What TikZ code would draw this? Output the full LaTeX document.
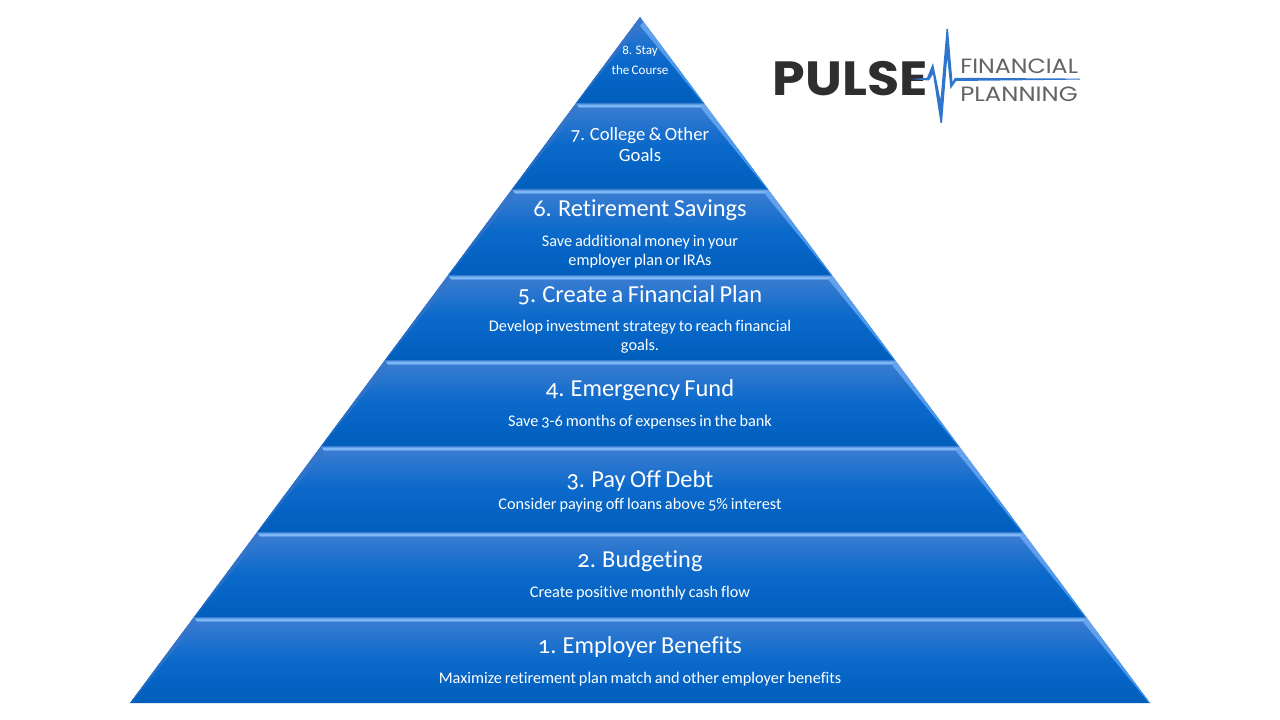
\documentclass[tikz,border=0pt]{standalone}
\usepackage{fontspec}
\setmainfont[Numbers=OldStyle,Ligatures={NoCommon},WordSpace=0.8]{Carlito}
\newfontfamily\logofont{Poppins}
\definecolor{laytop}{HTML}{3E7ED2}
\definecolor{laymid}{HTML}{0A69CA}
\definecolor{laybot}{HTML}{005FBC}
\definecolor{edgeR}{HTML}{3590F0}
\definecolor{edgeRt}{HTML}{6AA4EC}
\definecolor{edgeL}{HTML}{1A68C4}
\definecolor{edgeLt}{HTML}{3A78CC}
\definecolor{stripHi}{HTML}{8EC6FF}
\definecolor{stripLo}{HTML}{3D7DD2}
\definecolor{logoDark}{HTML}{2E2E30}
\definecolor{logoGrey}{HTML}{636466}
\definecolor{logoBlue}{HTML}{2F75CC}
\tikzset{
  x=0.75pt,y=-0.75pt,
  layer/.style={shade,top color=laytop,bottom color=laybot,middle color=laymid,draw=none},
  title/.style={text=white,font=\fontsize{18.3}{20}\selectfont,inner sep=0pt,align=center},
  sub/.style={text=white,font=\fontsize{12.2}{14.3}\selectfont,inner sep=0pt,align=center},
}
\begin{document}
\begin{tikzpicture}
\useasboundingbox (0,0) rectangle (1280,720);
\fill[white] (0,0) rectangle (1280,720);
\foreach \ya/\yb [count=\i] in {17/103,103/189,189/275,275/360,360/446,446/532,532/617,617/703}{
  \pgfmathsetmacro{\xla}{640-0.7434*(\ya-17)}
  \pgfmathsetmacro{\xra}{640+0.7434*(\ya-17)}
  \pgfmathsetmacro{\xlb}{640-0.7434*(\yb-17)}
  \pgfmathsetmacro{\xrb}{640+0.7434*(\yb-17)}
  \path[layer] (\xla,\ya) -- (\xra,\ya) -- (\xrb,\yb) -- (\xlb,\yb) -- cycle;
  % right bevel
  \path[shade,top color=edgeRt,bottom color=edgeR,draw=none]
    (\xra,\ya) -- (\xrb,\yb) -- (\xrb-1,\yb) -- (\xra-3,\ya+5) -- cycle;
  % left bevel
  \path[shade,top color=edgeLt,bottom color=edgeL,draw=none]
    (\xla,\ya) -- (\xlb,\yb) -- (\xlb+1,\yb) -- (\xla+3,\ya+5) -- cycle;
  % top bevel
  \ifnum\i>1
    \path[shade,top color=stripLo,bottom color=stripLo,middle color=stripHi,draw=none]
      (\xla,\ya) -- (\xra,\ya) -- (\xra-3,\ya+5) -- (\xla+3,\ya+5) -- cycle;
  \fi
}
\node[text=white,font=\fontsize{9.8}{15}\selectfont,inner sep=0pt,align=center] (t8) at (640,60) {8. Stay\\[0pt]the Course};
\node[text=white,font=\fontsize{14}{16}\selectfont,inner sep=0pt,align=center] (t7) at (640,144.5) {7. College \& Other\\Goals};
\node[title] (t6) at (640,210) {6. Retirement Savings};
\node[sub] (s6) at (640,251.5) {Save additional money in your\\employer plan or IRAs};
\node[title] (t5) at (640,295) {5. Create a Financial Plan};
\node[sub] (s5) at (640,336.5) {Develop investment strategy to reach financial\\goals.};
\node[title] (t4) at (640,390) {4. Emergency Fund};
\node[sub] (s4) at (640,422) {Save 3-6 months of expenses in the bank};
\node[title] (t3) at (640,481) {3. Pay Off Debt};
\node[sub] (s3) at (640,505) {Consider paying off loans above 5\% interest};
\node[title] (t2) at (640,561) {2. Budgeting};
\node[sub] (s2) at (640,593) {Create positive monthly cash flow};
\node[title] (t1) at (640,647) {1. Employer Benefits};
\node[sub] (s1) at (640,679) {Maximize retirement plan match and other employer benefits};
% logo
\node[text=logoDark,font=\logofont\bfseries\fontsize{36}{36}\selectfont,inner sep=0pt,anchor=base west] (pulse) at (772.5,96) {\scalebox{1.09}[1]{PULSE}};
\node[text=logoGrey,font=\logofont\fontsize{15.5}{16}\selectfont,inner sep=0pt,anchor=base west] (fin) at (960,74) {\scalebox{1.15}[1]{FINANCIAL}};
\node[text=logoGrey,font=\logofont\fontsize{15.5}{16}\selectfont,inner sep=0pt,anchor=base west] (plan) at (960,102) {\scalebox{1.18}[1]{PLANNING}};
\fill[logoBlue] (910,79) -- (927,77.8) -- (933,63) -- (940.5,100) -- (946.5,29) -- (948,29) -- (952.5,82) -- (955,77.8) -- (1080,78.6) -- (1080,79.6) -- (956,81) -- (950.5,89) -- (947.2,58) -- (942,123) -- (940.5,123) -- (933,74) -- (929,80.5) -- cycle;
\end{tikzpicture}
\end{document}
